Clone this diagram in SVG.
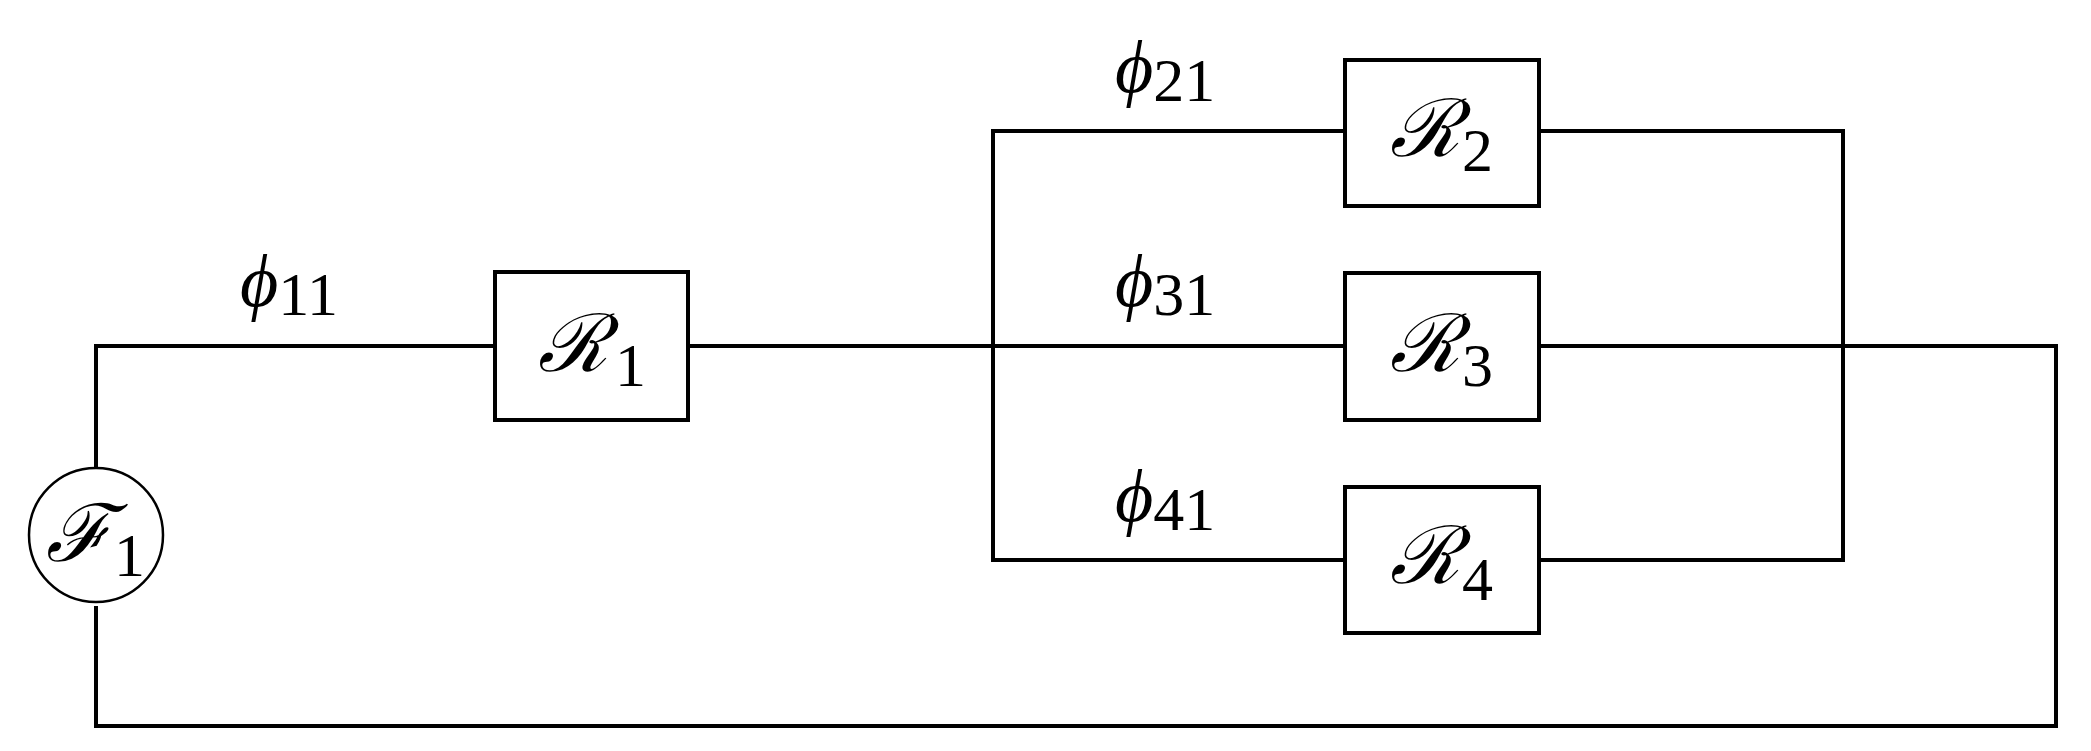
<svg xmlns="http://www.w3.org/2000/svg" width="2091" height="751" viewBox="0 0 2091 751">
<style>
.w{fill:none;stroke:#000;stroke-width:4;stroke-linecap:square}
.b{fill:#fff;stroke:#000;stroke-width:4}
.s{font-family:"DejaVu Serif","Liberation Serif",serif;font-style:italic;font-size:80px}
.d{font-family:"Liberation Serif","Times New Roman",serif;font-size:62px}
.p{font-family:"Liberation Serif",serif;font-style:italic;font-size:74px}
</style>
<rect width="2091" height="751" fill="#fff"/>
<g id="connectors">
<polyline class="w" points="96,468 96,346 495,346"/>
<polyline class="w" points="96,608 96,726 2056,726 2056,346 1539,346"/>
<line class="w" x1="688" y1="346" x2="1345" y2="346"/>
<polyline class="w" points="1345,131 993,131 993,560 1345,560"/>
<polyline class="w" points="1539,131 1843,131 1843,560 1539,560"/>
</g>
<g id="F1"><circle cx="96" cy="535" r="67" fill="#fff" stroke="#000" stroke-width="2.5"/><text class="s" x="46" y="561">ℱ</text><text class="d" x="114" y="576">1</text></g>
<g id="R1"><rect class="b" x="495" y="272" width="193" height="148"/><text class="s" x="538" y="371">ℛ</text><text class="d" x="615" y="386">1</text></g>
<g id="R2"><rect class="b" x="1345" y="60" width="194" height="146"/><text class="s" x="1390" y="156">ℛ</text><text class="d" x="1462" y="171">2</text></g>
<g id="R3"><rect class="b" x="1345" y="273" width="194" height="147"/><text class="s" x="1390" y="371">ℛ</text><text class="d" x="1462" y="386">3</text></g>
<g id="R4"><rect class="b" x="1345" y="487" width="194" height="146"/><text class="s" x="1390" y="583">ℛ</text><text class="d" x="1462" y="600">4</text></g>
<g id="labels">
<text x="240" y="306"><tspan class="p">ϕ</tspan><tspan class="d" dy="9">11</tspan></text>
<text x="1115" y="92"><tspan class="p">ϕ</tspan><tspan class="d" dy="9">21</tspan></text>
<text x="1115" y="306"><tspan class="p">ϕ</tspan><tspan class="d" dy="9">31</tspan></text>
<text x="1115" y="521"><tspan class="p">ϕ</tspan><tspan class="d" dy="9">41</tspan></text>
</g>
</svg>
